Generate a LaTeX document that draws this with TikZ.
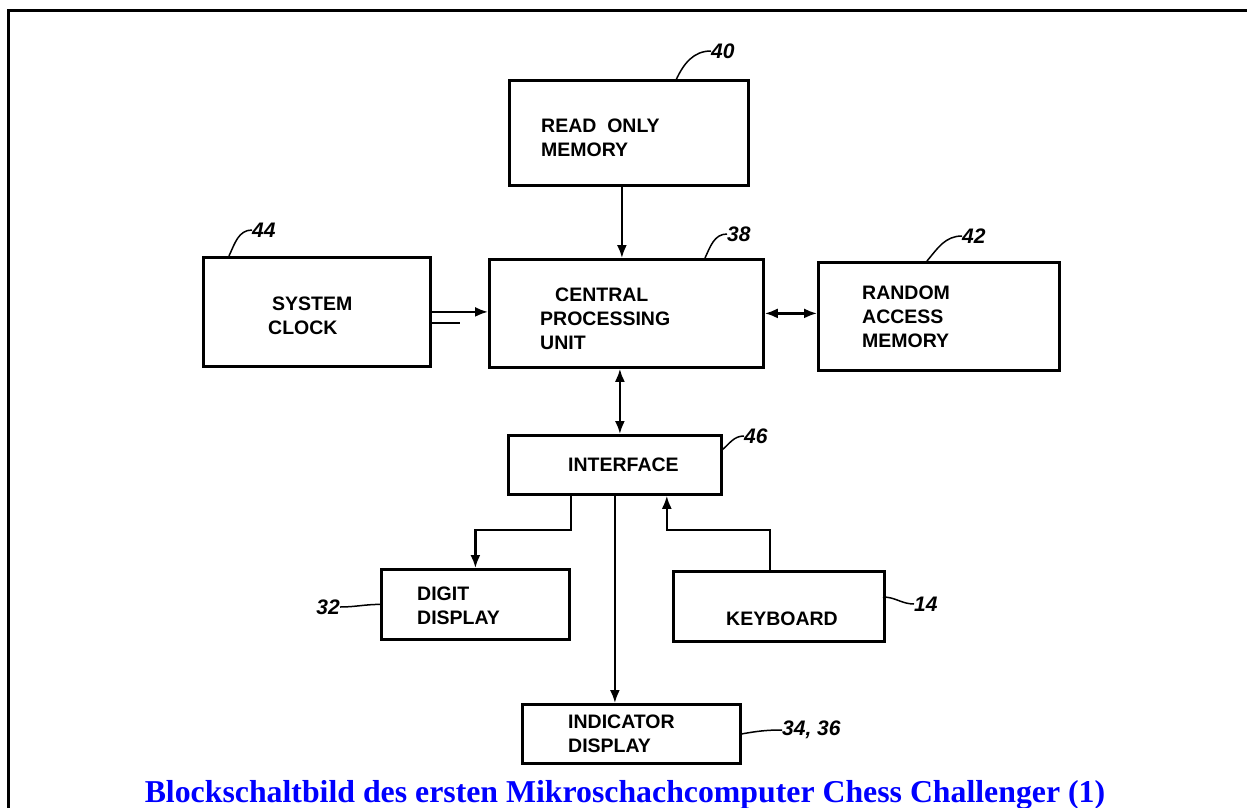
\documentclass[tikz,border=0pt]{standalone}
\usepackage{fontspec}
\setmainfont{Liberation Serif}
\newfontfamily\blockfont{Liberation Sans}
\usepackage{tikz}
\usetikzlibrary{positioning,arrows.meta}
\definecolor{capblue}{RGB}{0,0,255}

\begin{document}
\begin{tikzpicture}[x=1pt, y=-1pt, >={Latex[length=13pt,width=10pt]},
  box/.style = {draw, line width=2.8pt, anchor=north west, inner sep=0pt},
  txt/.style = {inner sep=0pt, align=left, font=\blockfont\bfseries\fontsize{19.5}{24}\selectfont},
  num/.style = {inner sep=0pt, font=\blockfont\bfseries\itshape\fontsize{21}{24}\selectfont},
  conn/.style = {line width=2.2pt},
  lead/.style = {line width=1.5pt}]
\useasboundingbox (0,0) rectangle (1247,808);
\draw[line width=2.5pt] (8.3,808) -- (8.3,10.5) -- (1247,10.5);
%\node[box] (nodeID) at (top left) {};
\node[box, minimum width=239, minimum height=105] (rom) at (508,79) {};
\node[box, minimum width=274, minimum height=108] (cpu) at (488,258) {};
\node[box, minimum width=227, minimum height=109] (clk) at (202,256) {};
\node[box, minimum width=241, minimum height=108] (ram) at (817,261) {};
\node[box, minimum width=213, minimum height=59] (intf) at (507,434) {};
\node[box, minimum width=188, minimum height=70] (digit) at (380,568) {};
\node[box, minimum width=211, minimum height=70] (keyb) at (672,570) {};
\node[box, minimum width=218, minimum height=59] (ind) at (521,703) {};
% texts in the blocks
\node[txt] (romtxt) [right=33pt of rom.west, yshift=-5pt] {READ\ \ ONLY\\MEMORY};
\node[txt] (cputxt) [right=52pt of cpu.west, yshift=-5pt] {\hspace*{15pt}CENTRAL\\PROCESSING\\UNIT};
\node[txt] (clktxt) [right=66pt of clk.west, yshift=-4pt] {\hspace*{4pt}SYSTEM\\CLOCK};
\node[txt] (ramtxt) [right=45pt of ram.west] {RANDOM\\ACCESS\\MEMORY};
\node[txt] (intftxt) [right=61pt of intf.west] {INTERFACE};
\node[txt] (digittxt) [right=37pt of digit.west, yshift=-1pt] {DIGIT\\DISPLAY};
\node[txt] (keybtxt) [right=54pt of keyb.west, yshift=-12pt] {KEYBOARD};
\node[txt] (indtxt) [right=47pt of ind.west] {INDICATOR\\DISPLAY};
% reference numbers
\node[num, anchor=west] (n40) at (711,51) {40};
\node[num, anchor=west] (n38) at (727,234) {38};
\node[num, anchor=west] (n44) at (252,230) {44};
\node[num, anchor=west] (n42) at (962,236) {42};
\node[num, anchor=west] (n46) at (744,436) {46};
\node[num, anchor=east] (n32) at (340,607) {32};
\node[num, anchor=west] (n14) at (914,604) {14};
\node[num, anchor=west] (n3436) at (782,730) {34, 36};
\coordinate (c40) at (676,80);
\coordinate (c38) at (705,258);
\coordinate (c44) at (229,256);
\coordinate (c42) at (927,261);
\coordinate (c46) at (722,450);
\coordinate (c14) at (883,597);
\draw[lead] (c40) to[out=65,in=180] (n40.west);
\draw[lead] (c38) to[out=65,in=180] (n38.west);
\draw[lead] (c44) to[out=65,in=180] (n44.west);
\draw[lead] (c42) to[out=50,in=180] (n42.west);
\draw[lead] (c46) to[out=40,in=180] (n46.west);
\draw[lead] (n32.east) to[out=0,in=180] (digit.west);
\draw[lead] (c14) to[out=0,in=180] (n14.west);
\draw[lead] (ind.east) to[out=10,in=180] (n3436.west);
% connections
\draw[conn,->] ([xshift=-7pt]rom.south) -- ([xshift=-7pt]rom.south |- cpu.north);
\draw[conn,->] (clk.east) -- (clk.east -| cpu.west);
\coordinate (tick) at ([xshift=28pt,yshift=-11pt]clk.east);
\draw[conn] ([yshift=-11pt]clk.east) -- (tick);
\draw[conn,<->] (cpu.east) -- (cpu.east -| ram.west);
\draw[conn,<->] ([xshift=5pt]intf.north |- cpu.south) -- ([xshift=5pt]intf.north);
\draw[conn,->] (intf.south -| digit.east) -- ++(0,34) -| (digit.north);
\draw[conn,->] (intf.south) -- (intf.south |- ind.north);
\draw[conn,->] ([xshift=-9pt]keyb.north) |- ([xshift=-56pt,yshift=-34pt]intf.south east) -- ([xshift=-56pt]intf.south east);
% caption
\node[font=\bfseries\fontsize{31.8}{34}\selectfont, text=capblue, inner sep=0pt, anchor=base] (cap) at (625,802) {Blockschaltbild des ersten Mikroschachcomputer Chess Challenger (1)};
\end{tikzpicture}
\end{document}
